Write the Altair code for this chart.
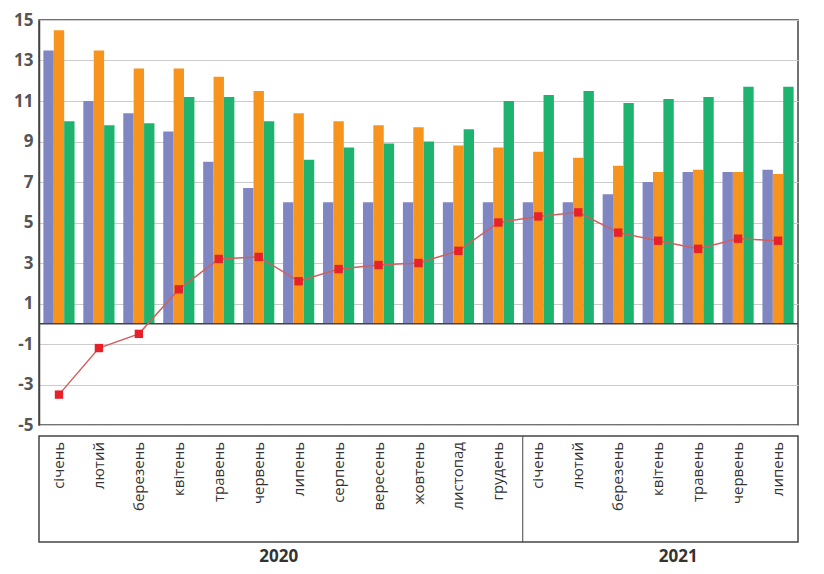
import altair as alt
import pandas as pd

months = ["січень", "лютий", "березень", "квітень", "травень", "червень", "липень",
          "серпень", "вересень", "жовтень", "листопад", "грудень",
          "січень", "лютий", "березень", "квітень", "травень", "червень", "липень"]
years = [2020] * 12 + [2021] * 7
keys = [f"{y}-{i}" for i, y in enumerate(years)]

blue = [13.5, 11.0, 10.4, 9.5, 8.0, 6.7, 6.0, 6.0, 6.0, 6.0, 6.0, 6.0,
        6.0, 6.0, 6.4, 7.0, 7.5, 7.5, 7.6]
orange = [14.5, 13.5, 12.6, 12.6, 12.2, 11.5, 10.4, 10.0, 9.8, 9.7, 8.8, 8.7,
          8.5, 8.2, 7.8, 7.5, 7.6, 7.5, 7.4]
green = [10.0, 9.8, 9.9, 11.2, 11.2, 10.0, 8.1, 8.7, 8.9, 9.0, 9.6, 11.0,
         11.3, 11.5, 10.9, 11.1, 11.2, 11.7, 11.7]
red = [-3.5, -1.2, -0.5, 1.7, 3.2, 3.3, 2.1, 2.7, 2.9, 3.0, 3.6, 5.0,
       5.3, 5.5, 4.5, 4.1, 3.7, 4.2, 4.1]

W = 759
FONT = "Open Sans"

bars = pd.DataFrame({
    "key": keys * 3,
    "series": ["a"] * 19 + ["b"] * 19 + ["c"] * 19,
    "value": blue + orange + green,
})
line = pd.DataFrame({"key": keys, "value": red})
labels = pd.DataFrame({"key": keys, "month": months, "year": years})

xscale = alt.Scale(domain=keys, paddingInner=0.22, paddingOuter=0.11)
yscale = alt.Scale(domain=[-5, 15], nice=False)
yaxis = alt.Axis(values=list(range(-5, 16, 2)), title=None, ticks=False,
                 labelFontSize=17, labelFontWeight="bold", labelColor="#555",
                 labelFont=FONT, labelPadding=6, gridColor="#ccc",
                 labelExpr="replace(datum.label, '−', '-')",
                 domainColor="#444", domainWidth=1.5)

bar_layer = alt.Chart(bars).mark_bar().encode(
    x=alt.X("key:N", scale=xscale, axis=None),
    xOffset=alt.XOffset("series:N"),
    y=alt.Y("value:Q", scale=yscale, axis=yaxis),
    color=alt.Color("series:N", legend=None,
                    scale=alt.Scale(domain=["a", "b", "c"],
                                    range=["#7f86c2", "#f7941d", "#1fb370"])),
)
zero = alt.Chart(pd.DataFrame({"v": [0]})).mark_rule(color="#444", strokeWidth=1.5).encode(
    y=alt.Y("v:Q", scale=yscale))
red_line = alt.Chart(line).mark_line(color="#d06060", strokeWidth=1.5).encode(
    x=alt.X("key:N", scale=xscale), y=alt.Y("value:Q", scale=yscale))
red_pts = alt.Chart(line).mark_square(color="#e8202a", size=70, opacity=1).encode(
    x=alt.X("key:N", scale=xscale), y=alt.Y("value:Q", scale=yscale))

top = alt.layer(bar_layer, zero, red_line, red_pts).properties(width=W, height=405)

month_text = alt.Chart(labels).mark_text(
    angle=270, align="right", baseline="middle", fontSize=15, font=FONT, color="#333"
).encode(
    x=alt.X("key:N", scale=xscale, axis=None),
    y=alt.value(6),
    text="month:N",
)
sep = alt.Chart(pd.DataFrame({"key": ["2021-12"]})).mark_rule(color="#444").encode(
    x=alt.X("key:N", scale=xscale, bandPosition=0))
mid = alt.layer(month_text, sep).properties(width=W, height=106)

year_text = alt.Chart(pd.DataFrame({"key": ["2020-5", "2021-15"], "year": ["2020", "2021"]})).mark_text(
    fontSize=17, fontWeight="bold", font=FONT, color="#333", dx=20, baseline="middle"
).encode(
    x=alt.X("key:N", scale=xscale, axis=None),
    y=alt.value(13),
    text="year:N",
)
bottom = year_text.properties(width=W, height=24, view=alt.ViewConfig(stroke=None))

chart = alt.vconcat(top, mid, bottom, spacing=0).resolve_scale(x="shared").configure_view(
    stroke="#444", strokeWidth=1.5
).configure_axis(grid=True).properties(
    padding={"left": 4, "top": 2, "right": 4, "bottom": 0}, background="white"
)

chart.save("out.html", embed_options={"renderer": "svg", "actions": False})
